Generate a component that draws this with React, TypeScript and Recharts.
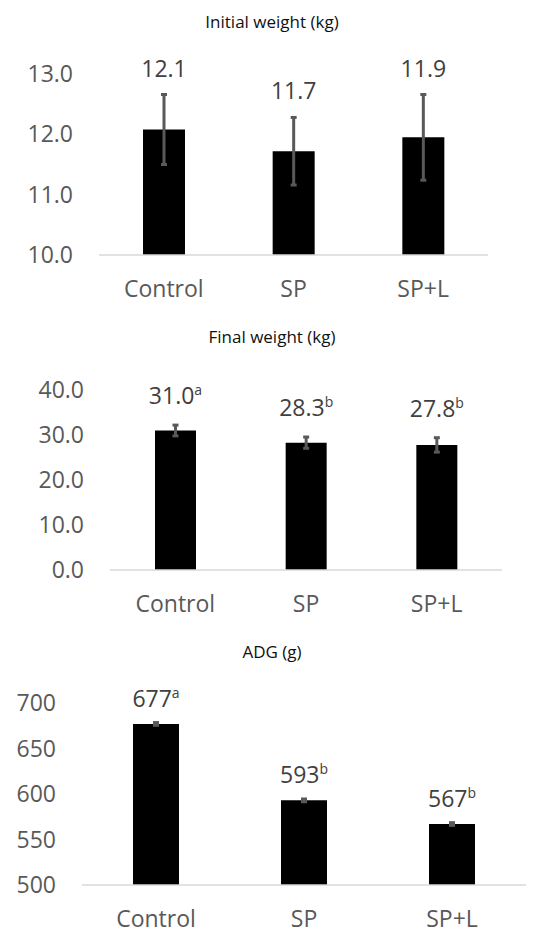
import { BarChart, Bar, XAxis, YAxis, ErrorBar, LabelList } from "recharts";

const categories = ["Control", "SP", "SP+L"];

const initialValues = [12.08, 11.72, 11.95];
const initialErrors = [0.58, 0.56, 0.71];
const initialLabels = ["12.1", "11.7", "11.9"];
const initialSup = ["", "", ""];
const initialTicks = [10, 11, 12, 13];

const finalValues = [31.0, 28.3, 27.8];
const finalErrors = [1.2, 1.25, 1.6];
const finalLabels = ["31.0", "28.3", "27.8"];
const finalSup = ["a", "b", "b"];
const finalTicks = [0, 10, 20, 30, 40];

const adgValues = [677, 593, 567];
const adgErrors = [1.5, 1.5, 1.5];
const adgLabels = ["677", "593", "567"];
const adgSup = ["a", "b", "b"];
const adgTicks = [500, 550, 600, 650, 700];

const FONT = "'Open Sans', sans-serif";

function makeRows(values: number[], errors: number[]) {
  return categories.map((name, i) => ({ name, value: values[i], err: errors[i] }));
}

// label sits above the error bar top
function labelRenderer(min: number, errors: number[], labels: string[], sups: string[], gap: number) {
  return (props: any) => {
    const { x, y, width, height, index } = props;
    const val = Number(props.value);
    const pxPerUnit = height / (val - min);
    const errTop = y - errors[index] * pxPerUnit;
    return (
      <text
        x={x + width / 2}
        y={errTop - gap}
        textAnchor="middle"
        fill="#404040"
        fontSize={23}
        fontFamily={FONT}
      >
        <tspan>{labels[index]}</tspan>
        {sups[index] ? (
          <tspan fontSize={14} dy={-9}>
            {sups[index]}
          </tspan>
        ) : null}
      </text>
    );
  };
}

interface PanelProps {
  top: number;
  height: number;
  title: string;
  titleTop: number;
  values: number[];
  errors: number[];
  labels: string[];
  sups: string[];
  ticks: number[];
  decimals: number;
  margin: { top: number; right: number; left: number; bottom: number };
  yWidth: number;
  xHeight: number;
  barSize: number;
  labelGap: number;
}

function Panel(p: PanelProps) {
  const data = makeRows(p.values, p.errors);
  const min = p.ticks[0];
  const max = p.ticks[p.ticks.length - 1];
  return (
    <>
      <div
        style={{
          position: "absolute",
          top: p.titleTop,
          left: 0,
          width: 544,
          textAlign: "center",
          fontFamily: FONT,
          fontSize: 17,
          fontWeight: 500,
          lineHeight: "20px",
          color: "#111111",
        }}
      >
        {p.title}
      </div>
      <div style={{ position: "absolute", top: p.top, left: 0 }}>
        <BarChart width={556} height={p.height} data={data} margin={p.margin}>
          <XAxis
            dataKey="name"
            axisLine={{ stroke: "#d9d9d9", strokeWidth: 1.5 }}
            tickLine={false}
            tickMargin={20}
            height={p.xHeight}
            tick={{ fill: "#595959", fontSize: 23, fontFamily: FONT }}
          />
          <YAxis
            type="number"
            domain={[min, max]}
            ticks={p.ticks}
            axisLine={false}
            tickLine={false}
            tickMargin={20}
            width={p.yWidth}
            tickFormatter={(v: number) => v.toFixed(p.decimals)}
            tick={{ fill: "#595959", fontSize: 23, fontFamily: FONT }}
          />
          <Bar dataKey="value" fill="#000000" barSize={p.barSize} isAnimationActive={false}>
            <ErrorBar
              dataKey="err"
              direction="y"
              stroke="#595959"
              strokeWidth={3}
              width={3}
              isAnimationActive={false}
            />
            <LabelList
              dataKey="value"
              content={labelRenderer(min, p.errors, p.labels, p.sups, p.labelGap)}
            />
          </Bar>
        </BarChart>
      </div>
    </>
  );
}

export default function App() {
  return (
    <div
      style={{
        position: "absolute",
        top: 0,
        left: 0,
        width: 556,
        height: 934,
        background: "#ffffff",
        fontFamily: FONT,
      }}
    >
      <Panel
        top={0}
        height={310}
        title="Initial weight (kg)"
        titleTop={12}
        values={initialValues}
        errors={initialErrors}
        labels={initialLabels}
        sups={initialSup}
        ticks={initialTicks}
        decimals={1}
        margin={{ top: 74, right: 68, left: 0, bottom: 0 }}
        yWidth={99}
        xHeight={55}
        barSize={42}
        labelGap={18}
      />
      <Panel
        top={310}
        height={310}
        title="Final weight (kg)"
        titleTop={327}
        values={finalValues}
        errors={finalErrors}
        labels={finalLabels}
        sups={finalSup}
        ticks={finalTicks}
        decimals={1}
        margin={{ top: 80, right: 54, left: 0, bottom: 0 }}
        yWidth={110}
        xHeight={50}
        barSize={41}
        labelGap={21}
      />
      <Panel
        top={610}
        height={324}
        title="ADG (g)"
        titleTop={642}
        values={adgValues}
        errors={adgErrors}
        labels={adgLabels}
        sups={adgSup}
        ticks={adgTicks}
        decimals={0}
        margin={{ top: 93, right: 30, left: 0, bottom: 0 }}
        yWidth={82}
        xHeight={49}
        barSize={46}
        labelGap={16}
      />
    </div>
  );
}
